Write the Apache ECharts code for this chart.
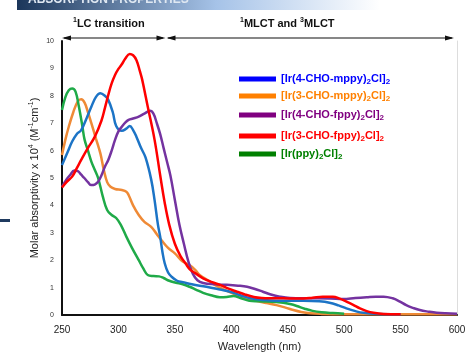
<!DOCTYPE html>
<html>
<head>
<meta charset="utf-8">
<script src="https://cdn.jsdelivr.net/npm/echarts@6/dist/echarts.min.js"></script>
<style>
  html, body { margin: 0; padding: 0; background: #fff; }
  #chart { width: 475px; height: 360px; }
</style>
</head>
<body>
<div id="chart"></div>
<script>
// wavelength (nm), molar absorptivity x 10^4
const blueData = [[250,5.47],[255,5.95],[259,6.33],[263,6.6],[267,6.75],[272,7.2],[276,7.6],[280,7.95],[284,8.09],[288,8.0],[291,7.85],[295,7.4],[298,6.9],[303,6.72],[307,6.8],[310,6.9],[313,6.75],[316,6.5],[320,6.1],[324,5.75],[329,4.95],[332,4.2],[335,3.3],[337,2.86],[339,2.3],[341,1.89],[344,1.55],[347,1.4],[352,1.25],[357,1.2],[365,1.12],[378,1.03],[390,0.93],[399,0.85],[408,0.72],[417,0.61],[428,0.55],[440,0.52],[452,0.52],[464,0.52],[478,0.5],[487,0.45],[495,0.35],[502,0.24],[510,0.14],[517,0.08],[530,0.04],[550,0.03]];
const orangeData = [[250,5.84],[253,6.4],[256,6.87],[260,7.4],[264,7.8],[267,7.87],[270,7.75],[273,7.4],[276,7.0],[280,6.45],[284,5.9],[287,5.3],[290,4.85],[293,4.68],[297,4.6],[303,4.56],[307,4.5],[309,4.38],[313,4.0],[318,3.65],[323,3.4],[329,3.22],[334,2.95],[338,2.74],[344,2.45],[350,2.25],[357,1.95],[363,1.82],[368,1.65],[372,1.46],[380,1.25],[387,1.06],[396,0.88],[405,0.73],[413,0.62],[422,0.52],[431,0.44],[440,0.36],[448,0.27],[455,0.18],[462,0.11],[470,0.06],[480,0.04],[500,0.03],[550,0.03],[600,0.03]];
const purpleData = [[250,4.68],[254,4.95],[257,5.1],[261,5.27],[264,5.25],[267,5.12],[270,4.99],[273,4.85],[276,4.74],[279,4.76],[282,4.86],[285,5.1],[288,5.41],[291,5.66],[294,6.0],[297,6.39],[300,6.7],[303,6.87],[306,7.02],[309,7.12],[313,7.17],[318,7.24],[323,7.35],[328,7.45],[331,7.35],[334,7.0],[337,6.6],[340,6.1],[343,5.6],[346,5.1],[350,4.2],[354,3.3],[358,2.6],[362,1.95],[366,1.5],[370,1.27],[375,1.17],[385,1.12],[396,1.1],[406,1.07],[414,1.03],[421,0.95],[428,0.85],[435,0.75],[443,0.67],[452,0.62],[464,0.61],[476,0.61],[488,0.6],[499,0.58],[510,0.62],[520,0.65],[528,0.67],[535,0.67],[543,0.61],[549,0.5],[555,0.36],[561,0.26],[567,0.18],[575,0.12],[582,0.08],[590,0.06],[600,0.05]];
const redData = [[250,4.65],[254,4.85],[259,5.05],[263,5.35],[267,5.66],[273,6.1],[279,6.5],[285,7.1],[288,7.55],[291,8.03],[294,8.45],[297,8.76],[300,8.98],[303,9.15],[306,9.35],[310,9.53],[313,9.48],[316,9.3],[319,8.9],[321,8.6],[326,7.6],[332,6.4],[337,5.1],[341,4.1],[345,3.3],[350,2.6],[355,2.15],[360,1.85],[363,1.68],[369,1.5],[375,1.34],[383,1.2],[390,1.1],[397,0.97],[405,0.85],[412,0.75],[420,0.66],[427,0.62],[434,0.61],[446,0.61],[455,0.6],[464,0.6],[472,0.63],[481,0.67],[490,0.67],[496,0.6],[502,0.49],[508,0.37],[514,0.24],[520,0.14],[526,0.08],[535,0.04],[550,0.03]];
const greenData = [[250,7.48],[253,7.95],[256,8.2],[259,8.27],[262,8.15],[265,7.6],[268,6.9],[270,6.4],[273,6.0],[276,5.6],[279,5.3],[282,5.0],[286,4.35],[290,3.83],[294,3.65],[298,3.54],[302,3.3],[307,2.86],[312,2.45],[318,2.0],[322,1.7],[326,1.46],[331,1.42],[336,1.41],[340,1.35],[345,1.25],[351,1.18],[357,1.12],[363,1.03],[369,0.92],[375,0.81],[382,0.72],[390,0.65],[396,0.66],[402,0.69],[408,0.62],[416,0.52],[424,0.5],[431,0.49],[440,0.47],[446,0.45],[452,0.4],[458,0.33],[465,0.23],[472,0.15],[480,0.1],[490,0.07],[500,0.05]];

const seriesNames = ['[Ir(4-CHO-mppy)2Cl]2', '[Ir(3-CHO-mppy)2Cl]2', '[Ir(4-CHO-fppy)2Cl]2', '[Ir(3-CHO-fppy)2Cl]2', '[Ir(ppy)2Cl]2'];
const seriesData = [blueData, orangeData, purpleData, redData, greenData];
const lineColors = ['#1c74c6', '#ef8a36', '#7433a0', '#ff0000', '#1faa48'];
const legendColors = ['#0000ff', '#ff8000', '#800080', '#ff0000', '#008000'];
const legendTops = [73, 90, 109, 130, 148];

const xTicks = [250, 600, 50];
const yTicks = [0, 10, 1];

const chart = echarts.init(document.getElementById('chart'));
const font = 'Liberation Sans, Arial, sans-serif';

function legendLabel(name) {
  return '{b|' + name.replace(/([)\]])2/g, '$1}{s|2}{b|') + '}';
}

const legends = seriesNames.map((name, i) => ({
  left: 239,
  top: legendTops[i],
  padding: 0,
  icon: 'rect',
  itemWidth: 37,
  itemHeight: 5,
  data: [{ name: name, itemStyle: { color: legendColors[i] } }],
  formatter: legendLabel,
  textStyle: {
    rich: {
      b: { color: legendColors[i], fontFamily: font, fontWeight: 'bold', fontSize: 11, lineHeight: 14, verticalAlign: 'middle' },
      s: { color: legendColors[i], fontFamily: font, fontWeight: 'bold', fontSize: 8, lineHeight: 14, verticalAlign: 'bottom', padding: [5, 0, 0, 0] }
    }
  }
}));

const drawOrder = [1, 4, 0, 2, 3];

chart.setOption({
  animation: false,
  legend: legends,
  grid: { left: 62, right: 18, top: 41, bottom: 45 },
  xAxis: {
    type: 'value',
    min: xTicks[0], max: xTicks[1], interval: xTicks[2],
    name: 'Wavelength (nm)',
    nameLocation: 'middle',
    nameGap: 26,
    nameTextStyle: { fontFamily: font, fontSize: 11, color: '#222' },
    axisLine: { lineStyle: { color: '#111', width: 2 } },
    axisTick: { show: false },
    splitLine: { show: false },
    axisLabel: { fontFamily: font, fontSize: 10, color: '#222', margin: 10 }
  },
  yAxis: [{
    type: 'value',
    min: yTicks[0], max: yTicks[1], interval: yTicks[2],
    name: 'Molar absorptivity x 10{sup|4} (M{sup|-1}cm{sup|-1})',
    nameLocation: 'middle',
    nameGap: 20,
    nameMoveOverlap: false,
    nameTextStyle: {
      fontFamily: font, fontSize: 11, color: '#222',
      rich: {
        sup: { fontFamily: font, fontSize: 7, color: '#222', verticalAlign: 'top', lineHeight: 14 }
      },
      lineHeight: 14
    },
    axisLine: { show: true, lineStyle: { color: '#111', width: 2 } },
    axisTick: { show: false },
    splitLine: { show: false },
    axisLabel: { fontFamily: font, fontSize: 7, color: '#333', margin: 8 }
  }, {
    type: 'value',
    position: 'right',
    min: yTicks[0], max: yTicks[1],
    axisLine: { show: true, lineStyle: { color: '#ddd', width: 1 } },
    axisTick: { show: false },
    axisLabel: { show: false },
    splitLine: { show: false }
  }],
  series: drawOrder.map(i => ({
    name: seriesNames[i],
    type: 'line',
    data: seriesData[i],
    smooth: 0.4,
    symbol: 'none',
    lineStyle: { color: lineColors[i], width: 2.5 },
    itemStyle: { color: lineColors[i] }
  })),
  graphic: [
    {
      type: 'rect', left: 17, top: 0, silent: true,
      shape: { width: 363, height: 10 },
      style: {
        fill: new echarts.graphic.LinearGradient(0, 0, 1, 0, [
          { offset: 0, color: '#1b365a' },
          { offset: 0.55, color: '#a6c3e8' },
          { offset: 1, color: '#ffffff' }
        ])
      }
    },
    {
      type: 'text', left: 28, top: -6, silent: true,
      style: { text: 'ABSORPTION PROPERTIES', fill: '#dfe8f2', font: 'bold 12px ' + font }
    },
    { type: 'rect', left: 0, top: 219, shape: { width: 10, height: 3 }, style: { fill: '#1f3a5f' } },
    {
      type: 'text', left: 73, top: 17,
      style: {
        text: '{s|1}{t|LC transition}',
        rich: {
          s: { fontFamily: font, fontWeight: 'bold', fontSize: 7, verticalAlign: 'top', lineHeight: 14, fill: '#111' },
          t: { fontFamily: font, fontWeight: 'bold', fontSize: 11, lineHeight: 14, fill: '#111' }
        }
      }
    },
    {
      type: 'text', left: 240, top: 17,
      style: {
        text: '{s|1}{t|MLCT and }{s|3}{t|MLCT}',
        rich: {
          s: { fontFamily: font, fontWeight: 'bold', fontSize: 7, verticalAlign: 'top', lineHeight: 14, fill: '#111' },
          t: { fontFamily: font, fontWeight: 'bold', fontSize: 11, lineHeight: 14, fill: '#111' }
        }
      }
    },
    { type: 'line', shape: { x1: 64, y1: 38, x2: 163, y2: 38 }, style: { stroke: '#111', lineWidth: 1.2 } },
    { type: 'line', shape: { x1: 168, y1: 38, x2: 452, y2: 38 }, style: { stroke: '#111', lineWidth: 1.2 } },
    { type: 'polygon', shape: { points: [[62, 38], [71, 35.5], [71, 40.5]] }, style: { fill: '#111' } },
    { type: 'polygon', shape: { points: [[165.5, 38], [156.5, 35.5], [156.5, 40.5]] }, style: { fill: '#111' } },
    { type: 'polygon', shape: { points: [[166.5, 38], [175.5, 35.5], [175.5, 40.5]] }, style: { fill: '#111' } },
    { type: 'polygon', shape: { points: [[454, 38], [445, 35.5], [445, 40.5]] }, style: { fill: '#111' } }
  ]
});
</script>
</body>
</html>
